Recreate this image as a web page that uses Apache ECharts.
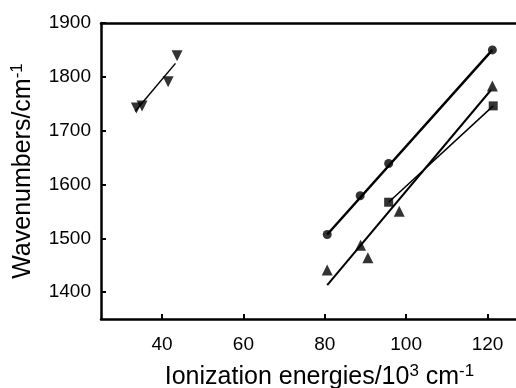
<!DOCTYPE html>
<html>
<head>
<meta charset="utf-8">
<script src="https://cdn.jsdelivr.net/npm/echarts@6/dist/echarts.min.js"></script>
<style>html,body{margin:0;padding:0;background:#fff;}#c{width:516px;height:388px;}</style>
</head>
<body>
<div id="c"></div>
<script>
// Data
const xTicks = [40, 60, 80, 100, 120];
const yTicks = [1400, 1500, 1600, 1700, 1800, 1900];

const downX = [33.7, 35.1, 41.5, 43.7];
const downY = [1742, 1746, 1791, 1839];
const circleX = [80.6, 88.7, 95.7, 121.2];
const circleY = [1507, 1579, 1639, 1850];
const upX = [80.6, 88.8, 90.6, 98.3, 121.2];
const upY = [1441, 1487, 1464, 1550, 1783];
const squareX = [95.7, 121.4];
const squareY = [1567, 1746];

const fitDownX = [33.4, 43.3];
const fitDownY = [1736, 1825];
const fitCircleX = [80.6, 121.2];
const fitCircleY = [1507, 1850];
const fitUpX = [80.6, 120.9];
const fitUpY = [1413, 1776];
const fitSquareX = [95.7, 121.4];
const fitSquareY = [1567, 1746];

const pairs = (xs, ys) => xs.map((x, i) => [x, ys[i]]);
const FONT = 'Liberation Sans, Arial, sans-serif';

const chart = echarts.init(document.getElementById('c'), null, {renderer: 'canvas'});
const lineSeries = (xs, ys, w) => ({
  type: 'line', data: pairs(xs, ys), symbol: 'none', silent: true,
  lineStyle: {color: '#000', width: w}, z: 2
});
const scatter = (xs, ys, sym, size, rot) => ({
  type: 'scatter', data: pairs(xs, ys), symbol: sym, symbolSize: size,
  symbolRotate: rot || 0, itemStyle: {color: '#000'}, z: 3
});
const plain = v => String(v);

chart.setOption({
  animation: false,
  backgroundColor: '#fff',
  grid: {left: 101, right: 0, top: 23, bottom: 69, containLabel: false, outerBoundsMode: 'none'},
  xAxis: [{
    type: 'value', min: 25, max: 127, position: 'bottom',
    splitLine: {show: false},
    axisLine: {show: true, lineStyle: {color: '#000', width: 2.5}},
    axisTick: {show: true, inside: true, length: 5, customValues: xTicks, lineStyle: {color: '#000', width: 2}},
    axisLabel: {customValues: xTicks, formatter: plain, color: '#000', fontSize: 19, fontFamily: FONT, margin: 16},
    name: '{a|Ionization energies/10}{s|3}{a| cm}{s|-1}',
    nameLocation: 'middle', nameGap: 44,
    nameTextStyle: {padding: [0, 0, 0, 22], rich: {
      a: {fontSize: 25, fontFamily: FONT, color: '#000'},
      s: {fontSize: 17, fontFamily: FONT, color: '#000', padding: [0, 0, 11, 0]}
    }}
  }, {
    type: 'value', min: 25, max: 127, position: 'top',
    splitLine: {show: false},
    axisLine: {show: true, onZero: false, lineStyle: {color: '#000', width: 2.5}},
    axisTick: {show: false}, axisLabel: {show: false}
  }],
  yAxis: {
    type: 'value', min: 1350, max: 1900,
    splitLine: {show: false},
    axisLine: {show: true, lineStyle: {color: '#000', width: 2.5}},
    axisTick: {show: true, inside: true, length: 5, customValues: yTicks, lineStyle: {color: '#000', width: 2}},
    axisLabel: {customValues: yTicks, formatter: plain, color: '#000', fontSize: 19, fontFamily: FONT, margin: 10},
    name: '{a|Wavenumbers/cm}{s|-1}',
    nameLocation: 'middle', nameGap: 64, nameRotate: 90,
    nameTextStyle: {rich: {
      a: {fontSize: 25, fontFamily: FONT, color: '#000'},
      s: {fontSize: 17, fontFamily: FONT, color: '#000', padding: [0, 0, 11, 0]}
    }}
  },
  series: [
    lineSeries(fitDownX, fitDownY, 1.5),
    lineSeries(fitCircleX, fitCircleY, 2.5),
    lineSeries(fitUpX, fitUpY, 2),
    lineSeries(fitSquareX, fitSquareY, 1.5),
    scatter(downX, downY, 'triangle', 11, 180),
    scatter(circleX, circleY, 'circle', 9),
    scatter(upX, upY, 'triangle', 11),
    scatter(squareX, squareY, 'rect', 9)
  ]
});
</script>
</body>
</html>
